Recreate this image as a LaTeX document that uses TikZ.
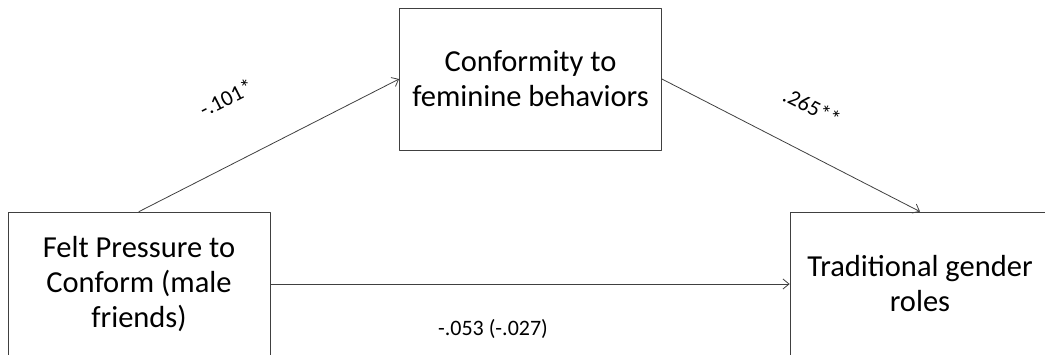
\documentclass[tikz,border=0pt]{standalone}
\usepackage{fontspec}
\setmainfont{Carlito}
\usetikzlibrary{arrows.meta}
\begin{document}
\begin{tikzpicture}[x=1pt, y=-1pt, line join=round, line cap=round, >={Straight Barb[length=6pt,width=10pt]},
	varbox/.style={draw=black!75, line width=0.8pt, minimum width=262pt, minimum height=144pt,
		align=center, font=\fontsize{30.5}{35}\selectfont, inner sep=0pt},
	path/.style={->, draw=black!75, line width=0.8pt},
	coef/.style={font=\fontsize{22}{26}\selectfont, inner sep=0pt}]
	\useasboundingbox (0,0) rectangle (1045,354);
	\clip (0,0) rectangle (1045,354);
	\node[varbox, minimum height=142pt] (conf) at (530.5,79) {Conformity to\\feminine behaviors};
	\node[varbox] (felt) at (139,284) {Felt Pressure to\\Conform (male\\friends)};
	\node[varbox, minimum width=260pt] (trad) at (920,284) {Traditional gender\\roles};
	\draw[path] (felt.north) -- (conf.west);
	\draw[path] (conf.east) -- (trad.north);
	\draw[path] (felt.east) -- (trad.west);
	\node[coef, rotate=27] (a) at (226,98) {-.101*};
	\node[coef, rotate=-27] (b) at (812,107) {.265**};
	\node[coef] (c) at (493,329) {-.053 (-.027)};
\end{tikzpicture}
\end{document}
